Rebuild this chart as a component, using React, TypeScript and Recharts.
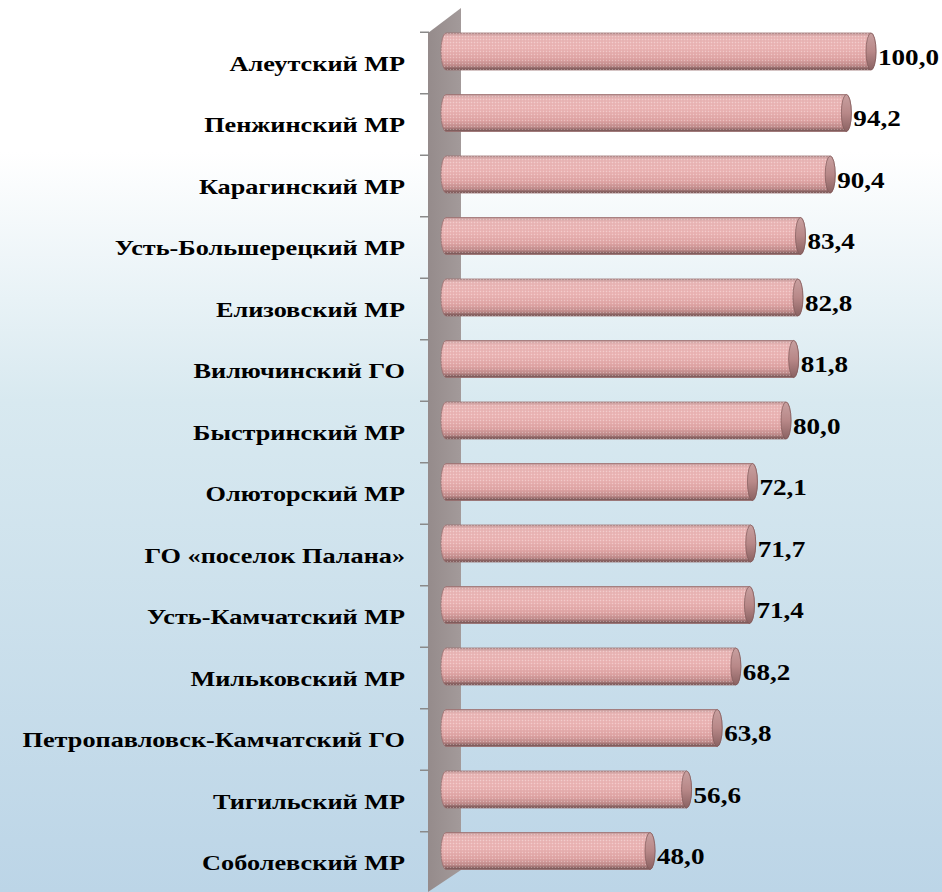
import React from "react";
import { BarChart, Bar, XAxis, YAxis, LabelList } from "recharts";

const categories = [
  "Алеутский МР",
  "Пенжинский МР",
  "Карагинский МР",
  "Усть-Большерецкий МР",
  "Елизовский МР",
  "Вилючинский ГО",
  "Быстринский МР",
  "Олюторский МР",
  "ГО «поселок Палана»",
  "Усть-Камчатский МР",
  "Мильковский МР",
  "Петропавловск-Камчатский ГО",
  "Тигильский МР",
  "Соболевский МР",
];
const values = [100.0, 94.2, 90.4, 83.4, 82.8, 81.8, 80.0, 72.1, 71.7, 71.4, 68.2, 63.8, 56.6, 48.0];

const data = categories.map((name, i) => ({ name, value: values[i] }));

const W = 942;
const H = 892;
const CAP_RX = 5;
const FONT = "Liberation Serif";

const CategoryTick = (props: any) => {
  const { y, payload } = props;
  return (
    <g>
      <line x1={420} x2={429} y1={y - 19.5} y2={y - 19.5} stroke="#8a8a8a" strokeWidth={1.5} />
      <text
        transform={`translate(405, ${y + 19}) scale(1.25, 1)`}
        textAnchor="end"
        fontFamily={FONT}
        fontWeight="bold"
        fontSize={21}
        fill="#000"
      >
        {payload.value}
      </text>
    </g>
  );
};

const CylinderBar = (props: any) => {
  const { x, y, width, height } = props;
  if (width == null || height == null) return null;
  const ry = height / 2;
  const x0 = x;
  const x1 = x + width;
  const body = `M ${x0} ${y} L ${x1} ${y} A ${CAP_RX} ${ry} 0 0 1 ${x1} ${y + height} L ${x0} ${y + height} A ${CAP_RX} ${ry} 0 0 1 ${x0} ${y} Z`;
  return (
    <g>
      <path d={body} fill="url(#cylBody)" stroke="#9a7070" strokeWidth={0.8} />
      <path d={body} fill="url(#cylTex)" />
      <ellipse cx={x1} cy={y + ry} rx={CAP_RX} ry={ry} fill="url(#cylCap)" stroke="#7e5858" strokeWidth={0.7} />
    </g>
  );
};

const ValueLabel = (props: any) => {
  const { x, y, width, height, value } = props;
  const tx = x + width + CAP_RX + 2;
  const ty = y + height / 2 + 13;
  return (
    <text
      transform={`translate(${tx}, ${ty}) scale(1.18, 1)`}
      textAnchor="start"
      fontFamily={FONT}
      fontWeight="bold"
      fontSize={23}
      fill="#000"
    >
      {Number(value).toFixed(1).replace(".", ",")}
    </text>
  );
};

export default function App() {
  return (
    <div style={{ position: "absolute", left: 0, top: 0, width: W, height: H, overflow: "hidden" }}>
      <svg width={W} height={H} style={{ position: "absolute", left: 0, top: 0 }}>
        <defs>
          <linearGradient id="bgGrad" x1="0" y1="0" x2="0" y2="1">
            <stop offset="0" stopColor="#ffffff" />
            <stop offset="0.17" stopColor="#ffffff" />
            <stop offset="0.45" stopColor="#d8e9f0" />
            <stop offset="1" stopColor="#bcd5e7" />
          </linearGradient>
          <linearGradient id="wallGrad" x1="0" y1="0" x2="1" y2="0">
            <stop offset="0" stopColor="#958b8b" />
            <stop offset="1" stopColor="#a39a9a" />
          </linearGradient>
          <linearGradient id="cylBody" x1="0" y1="0" x2="0" y2="1">
            <stop offset="0" stopColor="#c49c9c" />
            <stop offset="0.1" stopColor="#eab8b8" />
            <stop offset="0.4" stopColor="#ecb6b6" />
            <stop offset="0.7" stopColor="#e0a6a6" />
            <stop offset="0.88" stopColor="#c08c8c" />
            <stop offset="1" stopColor="#6c4e4e" />
          </linearGradient>
          <linearGradient id="cylCap" x1="0" y1="0" x2="0" y2="1">
            <stop offset="0" stopColor="#c8a0a0" />
            <stop offset="0.5" stopColor="#b88888" />
            <stop offset="1" stopColor="#8a6262" />
          </linearGradient>
          <pattern id="cylTex" width="3" height="3" patternUnits="userSpaceOnUse">
            <rect x={0} y={0} width={1} height={1} fill="#ffffff" fillOpacity={0.3} />
            <rect x={1.5} y={1.5} width={1} height={1} fill="#9a5a5a" fillOpacity={0.18} />
          </pattern>
        </defs>
        <rect x={0} y={0} width={W} height={H} fill="url(#bgGrad)" />
        <polygon points="428,33 461,8 461,870 428,892" fill="url(#wallGrad)" />
      </svg>
      <div style={{ position: "absolute", left: 0, top: 0 }}>
        <BarChart
          width={W}
          height={H}
          data={data}
          layout="vertical"
          margin={{ top: 21, right: 71, bottom: 10, left: 0 }}
          barCategoryGap={0}
        >
          <XAxis type="number" domain={[0, 100]} hide />
          <YAxis
            type="category"
            dataKey="name"
            width={446}
            tickLine={false}
            axisLine={false}
            interval={0}
            tick={<CategoryTick />}
          />
          <Bar dataKey="value" barSize={37} shape={<CylinderBar />} isAnimationActive={false}>
            <LabelList dataKey="value" content={<ValueLabel />} />
          </Bar>
        </BarChart>
      </div>
    </div>
  );
}
